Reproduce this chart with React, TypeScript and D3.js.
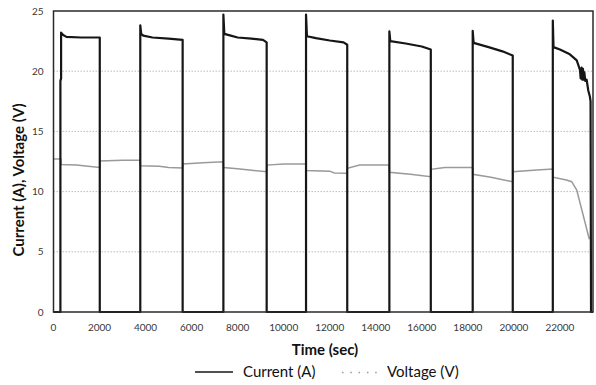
import React from "react";
import * as d3 from "d3";

// Pulsed discharge test: current pulses and pack voltage over time
const currentTime = [
  0, 300, 300, 330, 330, 420, 560, 1200, 2010, 2010,
  3770, 3770, 3810, 3900, 4300, 5000, 5610, 5610,
  7380, 7380, 7420, 7700, 8000, 8600, 9100, 9260, 9260,
  10970, 10970, 11010, 11400, 12000, 12600, 12760, 12760,
  14590, 14590, 14630, 15300, 16000, 16390, 16390,
  18210, 18210, 18250, 18900, 19500, 19950, 19950,
  21690, 21690, 21720, 22000, 22430, 22730, 22870, 22900, 22940, 22970,
  23000, 23030, 23060, 23100, 23160, 23230, 23300, 23330, 23350, 23436,
];
const currentAmps = [
  0, 0, 19.2, 19.4, 23.2, 23.0, 22.85, 22.8, 22.8, 0,
  0, 23.8, 23.1, 22.95, 22.8, 22.7, 22.6, 0,
  0, 24.7, 23.1, 22.95, 22.8, 22.7, 22.6, 22.4, 0,
  0, 24.7, 22.9, 22.75, 22.55, 22.4, 22.2, 0,
  0, 23.3, 22.5, 22.3, 22.05, 21.8, 0,
  0, 23.35, 22.35, 22.0, 21.65, 21.3, 0,
  0, 24.2, 22.0, 21.8, 21.4, 20.9, 20.1, 19.4, 20.3, 19.3,
  20.2, 19.3, 19.9, 19.2, 19.3, 18.4, 17.9, 17.5, 0, 0,
];

const voltageTime = [
  0, 320, 330, 1000, 1500, 2005, 2015, 3000, 3765,
  3775, 4600, 5000, 5605, 5615, 6500, 7375,
  7385, 8000, 8700, 9255, 9265, 10000, 10965,
  10975, 12000, 12200, 12755, 12765, 13300, 14585,
  14595, 15500, 16385, 16395, 17000, 18205,
  18215, 19000, 19945, 19955, 21000, 21685,
  21695, 22280, 22510, 22730, 23276,
];
const voltageVolts = [
  12.7, 12.7, 12.25, 12.2, 12.1, 12.0, 12.55, 12.6, 12.6,
  12.15, 12.1, 12.0, 11.96, 12.3, 12.4, 12.48,
  12.0, 11.9, 11.75, 11.65, 12.2, 12.3, 12.3,
  11.75, 11.7, 11.55, 11.52, 11.93, 12.2, 12.2,
  11.6, 11.45, 11.24, 11.85, 12.0, 12.0,
  11.44, 11.2, 10.82, 11.65, 11.8, 11.88,
  11.2, 10.96, 10.82, 10.13, 6.04,
];

const xTicks = [0, 2000, 4000, 6000, 8000, 10000, 12000, 14000, 16000, 18000, 20000, 22000];
const yTicks = [0, 5, 10, 15, 20, 25];

const W = 596;
const H = 385;
const plot = { left: 53.5, right: 593, top: 11, bottom: 312 };
const FONT = "Lato, 'Open Sans', sans-serif";

export default function App() {
  const x = d3.scaleLinear().domain([0, 23436]).range([plot.left, plot.right]);
  const y = d3.scaleLinear().domain([0, 25]).range([plot.bottom, plot.top]);

  const line = d3
    .line<[number, number]>()
    .x((d) => x(d[0]))
    .y((d) => y(d[1]));

  const currentPts = currentTime.map((t, i) => [t, currentAmps[i]] as [number, number]);
  const voltagePts = voltageTime.map((t, i) => [t, voltageVolts[i]] as [number, number]);

  return (
    <svg
      width={W}
      height={H}
      style={{ position: "absolute", left: 0, top: 0, background: "#fff" }}
      fontFamily={FONT}
    >
      <rect width={W} height={H} fill="#fff" />
      {/* horizontal gridlines */}
      {yTicks
        .filter((v) => v > 0 && v < 25)
        .map((v) => (
          <line
            key={v}
            x1={plot.left}
            x2={plot.right}
            y1={y(v)}
            y2={y(v)}
            stroke="#bdbdbd"
            strokeWidth={1}
            strokeDasharray="1.5 1.5"
          />
        ))}

      {/* series */}
      <path d={line(voltagePts) ?? ""} fill="none" stroke="#9a9a9a" strokeWidth={1.5} />
      <path
        d={line(currentPts) ?? ""}
        fill="none"
        stroke="#161616"
        strokeWidth={2.2}
        strokeLinejoin="round"
      />

      {/* plot frame */}
      <rect
        x={plot.left}
        y={plot.top}
        width={plot.right - plot.left}
        height={plot.bottom - plot.top}
        fill="none"
        stroke="#2a2a2a"
        strokeWidth={1.5}
      />

      {/* tick labels */}
      {yTicks.map((v) => (
        <text
          key={v}
          x={43.5}
          y={y(v)}
          dy="0.35em"
          textAnchor="end"
          fontSize={10}
          fill="#383838"
        >
          {v}
        </text>
      ))}
      {xTicks.map((v) => (
        <text
          key={v}
          x={x(v)}
          y={327}
          dy="0.35em"
          textAnchor="middle"
          fontSize={10}
          fill="#383838"
        >
          {v}
        </text>
      ))}

      {/* axis titles */}
      <text x={325} y={350} dy="0.35em" textAnchor="middle" fontSize={15} fontWeight="bold" fill="#111">
        Time (sec)
      </text>
      <text
        transform={`translate(19,180) rotate(-90)`}
        dy="0.35em"
        textAnchor="middle"
        fontSize={15}
        fontWeight="bold"
        fill="#111"
      >
        Current (A), Voltage (V)
      </text>

      {/* legend */}
      <line x1={195} x2={233} y1={372} y2={372} stroke="#161616" strokeWidth={1.5} />
      <text x={243} y={372} dy="0.35em" fontSize={15} fill="#111">
        Current (A)
      </text>
      <line
        x1={342}
        x2={378}
        y1={372.5}
        y2={372.5}
        stroke="#9a9a9a"
        strokeWidth={1.5}
        strokeDasharray="1.5 6.8"
      />
      <text x={387} y={372} dy="0.35em" fontSize={15} fill="#111">
        Voltage (V)
      </text>
    </svg>
  );
}
